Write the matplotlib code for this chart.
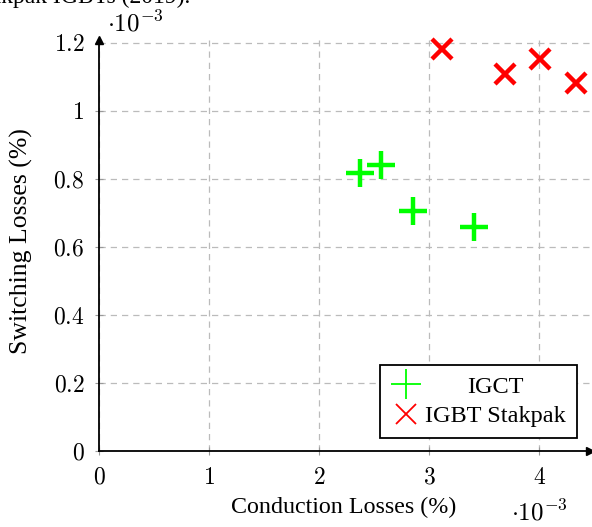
import numpy as np
import matplotlib.pyplot as plt
from matplotlib.lines import Line2D

# data (values in units of 1e-3)
igct_cond = [2.37, 2.56, 2.85, 3.41]
igct_sw = [0.817, 0.841, 0.706, 0.660]
igbt_cond = [3.12, 3.69, 4.01, 4.33]
igbt_sw = [1.184, 1.111, 1.153, 1.084]

xticks = [0, 1, 2, 3, 4]
yticks = [0, 0.2, 0.4, 0.6, 0.8, 1, 1.2]

plt.rcParams['font.family'] = ['Liberation Serif', 'DejaVu Serif']
plt.rcParams['mathtext.fontset'] = 'cm'

fig = plt.figure(figsize=(5.92, 5.27), dpi=100)
ax = fig.add_axes([99/592, 76/527, 491/592, 411/527])

ax.plot(igct_cond, igct_sw, '+', color='#00ff00', ms=20, mew=3.2, ls='none', clip_on=False)
ax.plot(igbt_cond, igbt_sw, 'x', color='#ff0000', ms=14, mew=3.2, ls='none', clip_on=False)

ax.set_xlim(0, 4.46)
ax.set_ylim(0, 1.21)
ax.set_xticks(xticks)
ax.set_yticks(yticks)
ax.set_xticklabels(['$%g$' % t for t in xticks], fontsize=17)
ax.set_yticklabels(['$%g$' % t for t in yticks], fontsize=17)
ax.tick_params(direction='inout', length=6, color='#999999', width=0.8)
ax.tick_params(axis='x', pad=9)
ax.tick_params(axis='y', pad=7.5)
ax.grid(True, color='#bbbbbb', ls=(0, (5, 4)), lw=0.9)

for s in ['top', 'right']:
    ax.spines[s].set_visible(False)
for s in ['left', 'bottom']:
    ax.spines[s].set_linewidth(1.3)
ax.plot(1, 0, '>k', ms=6, transform=ax.get_yaxis_transform(), clip_on=False)
ax.plot(0, 1, '^k', ms=6, transform=ax.get_xaxis_transform(), clip_on=False)

ax.set_xlabel('Conduction Losses (%)', fontsize=17.3)
ax.set_ylabel('Switching Losses (%)', fontsize=18.5)
ax.xaxis.set_label_coords(0.5 - 1/491, (451 - 497)/411)
ax.yaxis.set_label_coords((33 - 99)/491, (451 - 241)/411)

fig.text(107/592, 1 - 24/527, r'$\cdot 10^{-3}$', fontsize=18, va='center')
fig.text(511/592, 2/527, r'$\cdot 10^{-3}$', fontsize=18, va='bottom')
fig.text(190/592, 1 + 3/527, 'Stakpak IGBTs (2019).', fontsize=17, ha='right', va='center')

handles = [Line2D([], [], marker='+', color='#00ff00', ms=21, mew=1.3, ls='none'),
           Line2D([], [], marker='x', color='#ff0000', ms=14.5, mew=1.3, ls='none')]
leg = ax.legend(handles, ['IGCT', 'IGBT Stakpak'], loc='lower right',
                bbox_to_anchor=((577 - 99)/491, (451 - 438)/411), borderaxespad=0,
                fontsize=17.5, fancybox=False, framealpha=1, edgecolor='black',
                handletextpad=0.2, borderpad=0.45, labelspacing=0.3, handlelength=1.2)
leg.get_frame().set_linewidth(1.3)

# centre the shorter entry in the text column
fig.canvas.draw()
r = fig.canvas.get_renderer()
t0, t1 = leg.get_texts()
dx = (t1.get_window_extent(r).width - t0.get_window_extent(r).width) / 2
t0.set_x(t0.get_position()[0] + dx)

fig.savefig('out.png', dpi=100)
